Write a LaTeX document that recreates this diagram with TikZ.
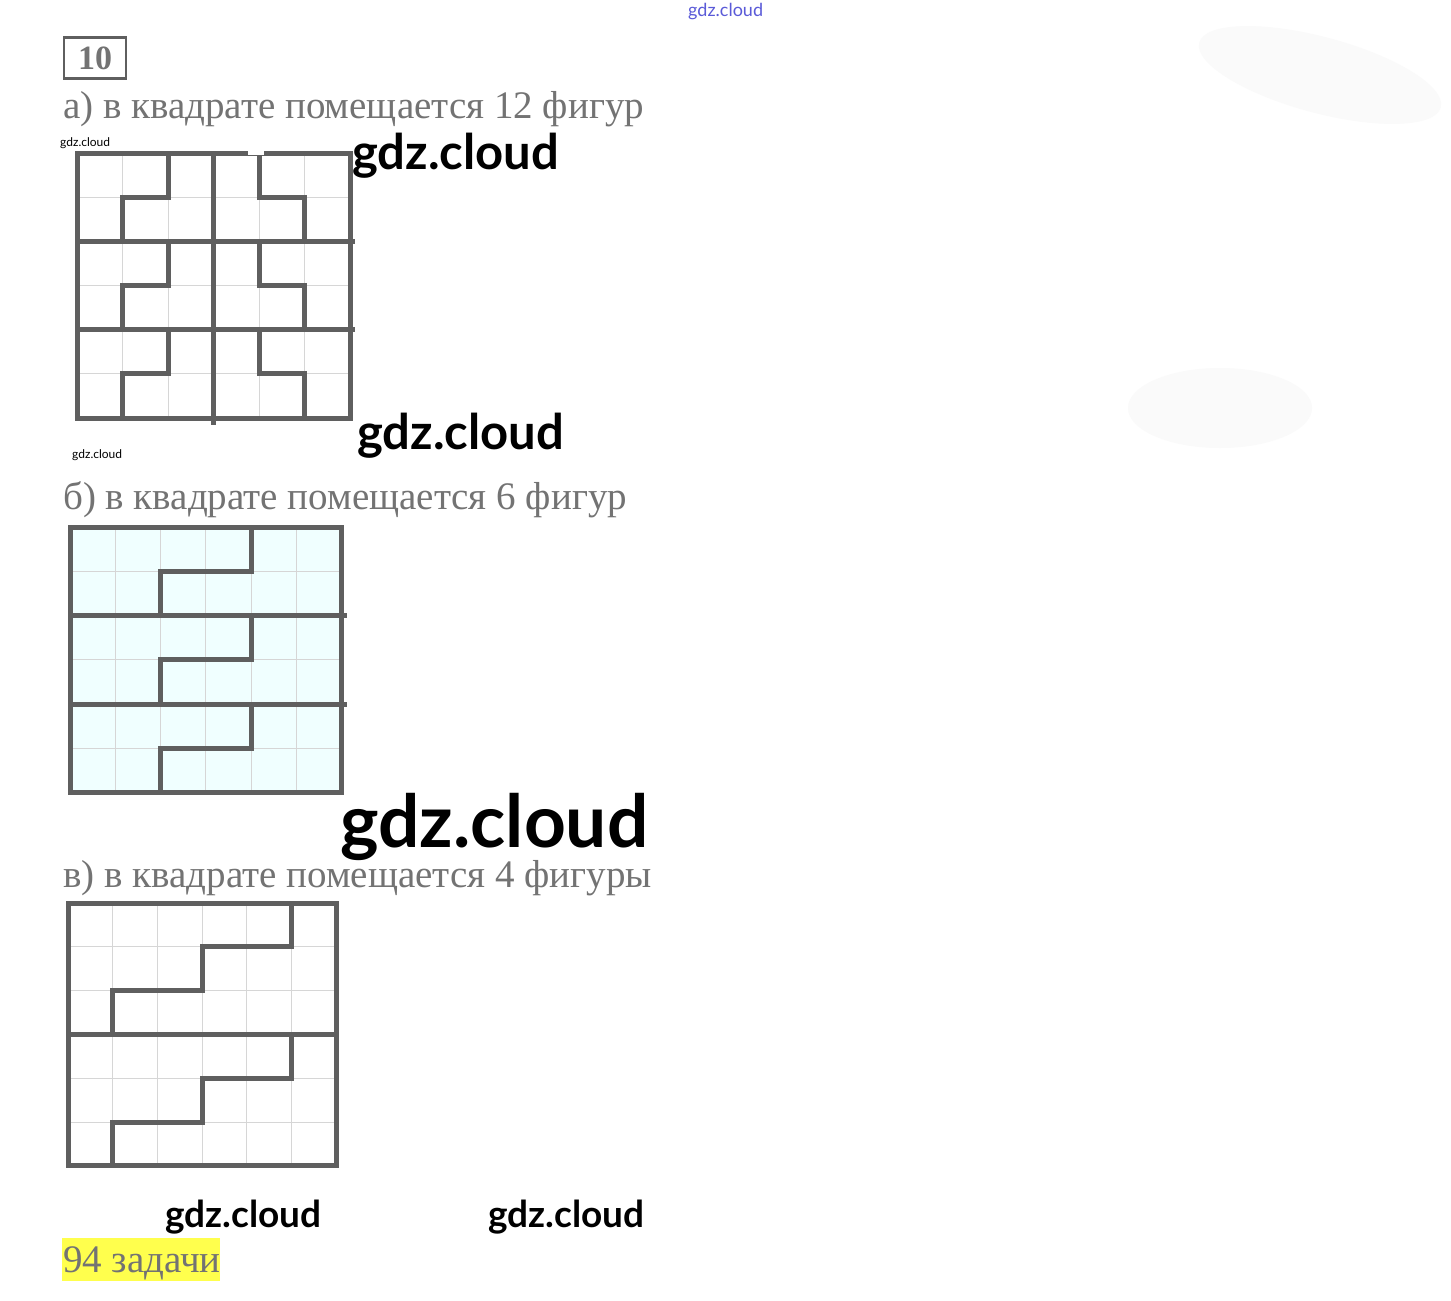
\documentclass[tikz,border=0pt]{standalone}
\usepackage{fontspec}
\setmainfont{Liberation Serif}
\newfontfamily\wmfont{Lato}
\definecolor{wallc}{HTML}{5F5F5F}
\definecolor{gridc}{HTML}{D6D6D6}
\definecolor{txtc}{HTML}{737373}
\definecolor{cyanbg}{HTML}{F0FFFF}
\definecolor{hl}{HTML}{FFFF4D}
\definecolor{wmblue}{HTML}{5A5AD8}
\definecolor{blobc}{HTML}{FAFAFA}
\tikzset{
  wall/.style={draw=wallc,line width=5pt,line cap=rect,line join=miter},
  gridln/.style={draw=gridc,line width=1pt},
  task/.style={anchor=base west,inner sep=0pt,text=txtc,font=\fontsize{39}{42}\selectfont},
  wm/.style={inner sep=0pt,anchor=base west,text=black,font=\wmfont\bfseries},
}
\begin{document}
\begin{tikzpicture}[x=1pt,y=-1pt]
\useasboundingbox[fill=white] (0,0) rectangle (1451,1301);
% faint blobs
\fill[blobc,rotate around={-15:(1320,75)}] (1320,75) ellipse (125 and 38);
\fill[blobc] (1220,408) ellipse (92 and 40);
% header
\node[wm,text=wmblue,font=\wmfont\fontsize{18}{20}\selectfont] (wtop) at (688,16) {gdz.cloud};
\node[draw=wallc,line width=2.5pt,minimum width=62pt,minimum height=41pt,inner sep=0pt,text=txtc,font=\bfseries\fontsize{34}{36}\selectfont] (num) at (95,58) {10};
\node[task] (ta) at (63,118) {а) в квадрате помещается 12 фигур};
% grid a
\begin{scope}[shift={(77,153)},x=45.5pt,y=-44.17pt]
  \foreach \i in {1,...,5} {\draw[gridln] (\i,0) -- (\i,6); \draw[gridln] (0,\i) -- (6,\i);}
  \draw[wall] (0,0) rectangle (6,6);
  \draw[wall] (3,0) -- (3,6.1);
  \draw[wall] (0,2) -- (6.05,2);
  \draw[wall] (0,4) -- (6.05,4);
  \foreach \r in {0,2,4} {
    \draw[wall] (2,\r) -- (2,\r+1) -- (1,\r+1) -- (1,\r+2);
    \draw[wall] (4,\r) -- (4,\r+1) -- (5,\r+1) -- (5,\r+2);
  }
  \fill[white] (3.75,-0.15) rectangle (4.1,0.05);
\end{scope}
\node[wm,font=\wmfont\fontsize{12}{14}\selectfont] (w1) at (60,146) {gdz.cloud};
\node[wm,font=\wmfont\bfseries\fontsize{49}{52}\selectfont] (w2) at (352,169) {gdz.cloud};
\node[wm,font=\wmfont\bfseries\fontsize{49}{52}\selectfont] (w3) at (357,449) {gdz.cloud};
\node[wm,font=\wmfont\fontsize{12}{14}\selectfont] (w4) at (72,458) {gdz.cloud};
% b
\node[task] (tb) at (63,509) {б) в квадрате помещается 6 фигур};
\begin{scope}[shift={(70,527)},x=45.33pt,y=-44.33pt]
  \fill[cyanbg] (0,0) rectangle (6,6);
  \foreach \i in {1,...,5} {\draw[gridln] (\i,0) -- (\i,6); \draw[gridln] (0,\i) -- (6,\i);}
  \draw[wall] (0,0) rectangle (6,6);
  \draw[wall] (0,2) -- (6.05,2);
  \draw[wall] (0,4) -- (6.05,4);
  \foreach \r in {0,2,4} {
    \draw[wall] (4,\r) -- (4,\r+1) -- (2,\r+1) -- (2,\r+2);
  }
\end{scope}
\node[wm,font=\wmfont\bfseries\fontsize{73}{76}\selectfont] (w5) at (340,847) {gdz.cloud};
% c
\node[task] (tc) at (63,887) {в) в квадрате помещается 4 фигуры};
\begin{scope}[shift={(68,903)},x=44.67pt,y=-43.83pt]
  \foreach \i in {1,...,5} {\draw[gridln] (\i,0) -- (\i,6); \draw[gridln] (0,\i) -- (6,\i);}
  \draw[wall] (0,0) rectangle (6,6);
  \draw[wall] (0,3) -- (6,3);
  \foreach \r in {0,3} {
    \draw[wall] (5,\r) -- (5,\r+1) -- (3,\r+1) -- (3,\r+2) -- (1,\r+2) -- (1,\r+3);
  }
\end{scope}
\node[wm,font=\wmfont\bfseries\fontsize{37}{40}\selectfont] (w6) at (165,1227) {gdz.cloud};
\node[wm,font=\wmfont\bfseries\fontsize{37}{40}\selectfont] (w7) at (488,1227) {gdz.cloud};
\fill[hl] (62,1238) rectangle (220,1281);
\node[task] (tz) at (63,1272) {94 задачи};
\end{tikzpicture}
\end{document}
